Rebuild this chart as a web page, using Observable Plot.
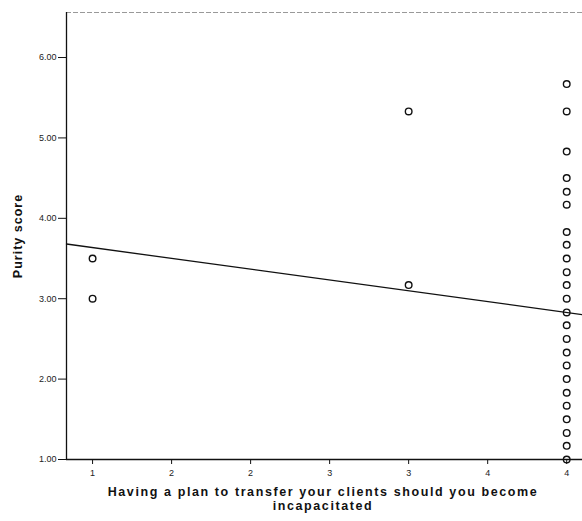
<!DOCTYPE html>
<html>
<head>
<meta charset="utf-8">
<script src="https://cdn.jsdelivr.net/npm/d3@7"></script>
<script src="https://cdn.jsdelivr.net/npm/@observablehq/plot@0.6"></script>
<style>
  html, body { margin: 0; padding: 0; background: #fff; }
  #wrap { position: relative; width: 582px; height: 521px; overflow: hidden; font-family: "Liberation Sans", Arial, sans-serif; }
  #ylab { position: absolute; left: 17.5px; top: 236px; transform: translate(-50%, -50%) rotate(-90deg); font-weight: bold; font-size: 12.5px; white-space: nowrap; color: #111; letter-spacing: 1px; }
  #xlab { position: absolute; left: 0; width: 646px; top: 485px; text-align: center; font-weight: bold; font-size: 12.5px; line-height: 14px; color: #111; letter-spacing: 1.6px; }
  svg { position: absolute; left: 0; top: 0; }
</style>
</head>
<body>
<div id="wrap">
  <div id="ylab">Purity score</div>
  <div id="xlab">Having a plan to transfer your clients should you become<br>incapacitated</div>
</div>
<script>
// Data
const plan   = [1, 1, 3, 3,
                4, 4, 4, 4, 4, 4, 4, 4, 4, 4, 4, 4,
                4, 4, 4, 4, 4, 4, 4, 4, 4, 4, 4, 4];
const purity = [3.50, 3.00, 5.33, 3.17,
                1.00, 1.17, 1.33, 1.50, 1.67, 1.83, 2.00, 2.17, 2.33, 2.50, 2.67, 2.83,
                3.00, 3.17, 3.33, 3.50, 3.67, 3.83, 4.17, 4.33, 4.50, 4.83, 5.33, 5.67];

// Fitted line
const fitIntercept = 3.905;
const fitSlope = -0.269;

// Axes
const xDomain = [0.835, 4.10];
const yDomain = [1, 6.56];
const xTicks = [1, 1.5, 2, 2.5, 3, 3.5, 4];
const xTickLabels = ["1", "2", "2", "3", "3", "4", "4"];
const yTicks = [1, 2, 3, 4, 5, 6];
const yTickLabels = ["1.00", "2.00", "3.00", "4.00", "5.00", "6.00"];

const points = plan.map((p, i) => ({x: p, y: purity[i]}));
const fit = xDomain.map(x => ({x, y: fitIntercept + fitSlope * x}));

const chart = Plot.plot({
  width: 582,
  height: 482,
  marginLeft: 66,
  marginRight: 0,
  marginTop: 12,
  marginBottom: 23,
  style: {fontFamily: "'Liberation Sans', Arial, sans-serif", fontSize: "9px", color: "#222", background: "transparent"},
  x: {domain: xDomain},
  y: {domain: yDomain},
  marks: [
    Plot.ruleY([yDomain[1]], {stroke: "#999", strokeWidth: 1, strokeDasharray: "5,2"}),
    Plot.ruleX([xDomain[0]], {stroke: "#111", strokeWidth: 1.3}),
    Plot.ruleY([yDomain[0]], {stroke: "#111", strokeWidth: 1.3}),
    Plot.axisX({ticks: xTicks, tickFormat: (d) => xTickLabels[xTicks.indexOf(d)], tickSize: 5, tickPadding: 5, label: null, stroke: "#111", fill: "#222"}),
    Plot.axisY({ticks: yTicks, tickFormat: (d) => yTickLabels[yTicks.indexOf(d)], tickSize: 8, tickPadding: 2, label: null, stroke: "#111", fill: "#222"}),
    Plot.line(fit, {x: "x", y: "y", stroke: "#111", strokeWidth: 1.3}),
    Plot.dot(points, {x: "x", y: "y", r: 3.3, stroke: "#111", strokeWidth: 1.4, fill: "none"})
  ]
});
document.getElementById("wrap").appendChild(chart);
</script>
</body>
</html>
